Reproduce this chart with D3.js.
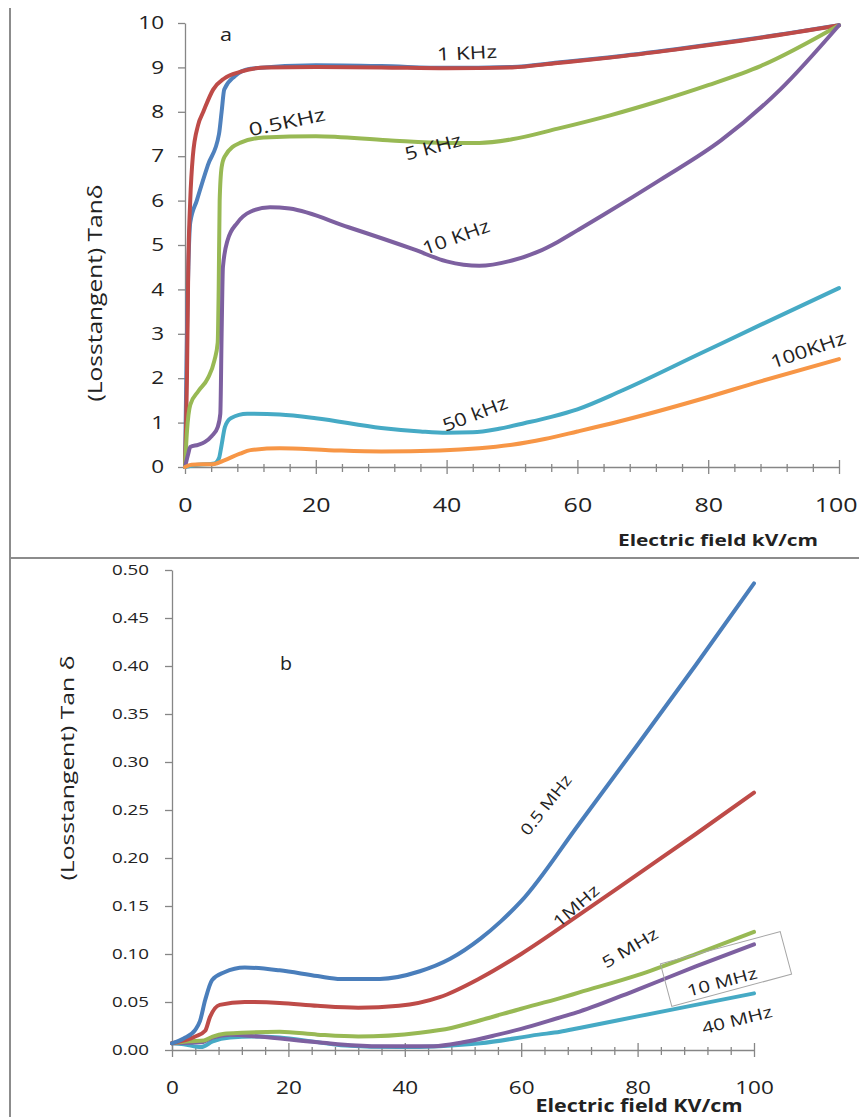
<!DOCTYPE html>
<html>
<head>
<meta charset="utf-8">
<script src="https://cdn.jsdelivr.net/npm/d3@7"></script>
<style>
  html, body { margin: 0; padding: 0; background: #fff; }
  svg { display: block; }
  text { font-family: "Open Sans", "Noto Sans", sans-serif; fill: #222; }
</style>
</head>
<body>
<svg id="chart" width="859" height="1117"></svg>
<script>
// ---------------- Panel a data (Electric field kV/cm, tan δ) ----------------
const xTicksA = [0, 20, 40, 60, 80, 100];
const yTicksA = [0, 1, 2, 3, 4, 5, 6, 7, 8, 9, 10];
const a_05kHz = [[0,0],[0.3,3],[0.8,5.5],[1.8,6],[3.5,6.8],[5.2,7.5],[5.6,8],[6,8.5],[7.6,8.8],[10,8.97],[20,9.05],[30,9.03],[40,8.99],[50,9.01],[57,9.11],[65,9.23],[75,9.41],[85,9.61],[100,9.95]];
const a_1kHz = [[0,0],[0.3,2],[0.5,4.5],[0.8,6],[1.2,7],[2,7.7],[2.8,8],[4.3,8.5],[6,8.75],[8.4,8.9],[12.5,9.0],[20,9.01],[30,9.0],[40,8.98],[50,9.0],[57,9.1],[65,9.22],[75,9.4],[85,9.6],[100,9.95]];
const a_5kHz = [[0,0],[0.3,0.8],[0.8,1.4],[2,1.7],[3.5,2.0],[4.5,2.4],[5,2.8],[5.15,4],[5.3,6],[5.6,6.75],[6.1,7],[8.4,7.3],[12,7.42],[20,7.45],[31,7.36],[40,7.3],[45,7.3],[50,7.38],[57,7.62],[65,7.92],[72,8.22],[80,8.6],[88,9.03],[100,9.95]];
const a_10kHz = [[0,0],[0.5,0.3],[0.8,0.45],[2,0.5],[3,0.56],[4.1,0.7],[5,0.9],[5.4,1.2],[5.6,3],[5.8,4.5],[6.5,5.1],[8,5.5],[10,5.75],[13,5.85],[16,5.82],[25,5.4],[35,4.9],[40,4.63],[45,4.53],[50,4.65],[54,4.85],[57,5.07],[60,5.33],[64,5.68],[72.6,6.46],[82,7.36],[91,8.5],[100,9.95]];
const a_50kHz = [[0,0],[2,0.05],[4.5,0.08],[5.2,0.2],[5.6,0.5],[6.1,0.9],[7,1.1],[9.5,1.2],[14.5,1.18],[20,1.1],[30,0.88],[36,0.8],[40,0.77],[44,0.78],[48,0.86],[52,0.99],[56,1.13],[60,1.3],[66.5,1.7],[78.7,2.55],[88,3.2],[100,4.03]];
const a_100kHz = [[0,0],[1,0.05],[4.5,0.07],[6,0.15],[8.4,0.3],[10,0.38],[14.5,0.42],[22,0.38],[30,0.35],[39,0.37],[45,0.42],[50,0.5],[55,0.63],[60,0.8],[66.5,1.03],[78.7,1.52],[88,1.93],[100,2.43]];

// ---------------- Panel b data ----------------
const xTicksB = [0, 20, 40, 60, 80, 100];
const yTicksB = [0, 0.05, 0.10, 0.15, 0.20, 0.25, 0.30, 0.35, 0.40, 0.45, 0.50];
const b_05MHz = [[0,0.007],[2,0.012],[4,0.021],[4.8,0.03],[5.7,0.052],[6.9,0.073],[9,0.081],[12.5,0.086],[18.5,0.083],[25,0.077],[29,0.074],[35.7,0.074],[42.6,0.082],[47.8,0.095],[53,0.116],[56.5,0.134],[60,0.155],[70,0.236],[80,0.318],[90,0.401],[100,0.486]];
const b_1MHz = [[0,0.007],[4,0.014],[5.7,0.02],[6.5,0.034],[8.2,0.047],[12.5,0.05],[18.5,0.049],[25,0.046],[32,0.044],[39,0.046],[46,0.055],[53,0.075],[60,0.1],[70,0.141],[80,0.183],[90,0.225],[100,0.268]];
const b_5MHz = [[0,0.007],[3,0.009],[5.5,0.01],[7,0.014],[9,0.017],[12,0.018],[18.5,0.019],[25,0.016],[32,0.014],[42.6,0.018],[48,0.023],[53,0.031],[60,0.043],[66.7,0.054],[70,0.06],[80,0.078],[90,0.1],[100,0.123]];
const b_10MHz = [[0,0.007],[5,0.008],[7,0.013],[10,0.016],[15,0.014],[25,0.008],[35,0.004],[45,0.004],[50,0.008],[56,0.016],[60,0.022],[66.7,0.034],[70,0.04],[80,0.063],[90,0.087],[100,0.11]];
const b_40MHz = [[0,0.007],[2,0.006],[5,0.003],[7,0.009],[10,0.013],[14,0.014],[18.5,0.013],[24,0.009],[29,0.005],[39,0.003],[46,0.004],[53,0.007],[63,0.016],[66.7,0.019],[70,0.023],[80,0.035],[90,0.047],[100,0.059]];

const seriesA = [
  {name: "0.5KHz", data: a_05kHz, color: "#4f81bd"},
  {name: "1 KHz", data: a_1kHz, color: "#be4b48"},
  {name: "5 KHz", data: a_5kHz, color: "#98b954"},
  {name: "10 KHz", data: a_10kHz, color: "#7d60a0"},
  {name: "50 kHz", data: a_50kHz, color: "#46aac5"},
  {name: "100KHz", data: a_100kHz, color: "#f79646"}
];
const seriesB = [
  {name: "40 MHz", data: b_40MHz, color: "#46aac5"},
  {name: "10 MHz", data: b_10MHz, color: "#7d60a0"},
  {name: "5 MHz", data: b_5MHz, color: "#98b954"},
  {name: "1MHz", data: b_1MHz, color: "#be4b48"},
  {name: "0.5 MHz", data: b_05MHz, color: "#4a7ebb"}
];

const svg = d3.select("#chart");
const axisColor = "#868686";
const SX = 1.25; // horizontal stretch of the reference typeface

// panel frames
svg.append("line").attr("x1", 10).attr("y1", 8).attr("x2", 10).attr("y2", 1117).attr("stroke", "#8c8c8c").attr("stroke-width", 2);
svg.append("line").attr("x1", 10).attr("y1", 558).attr("x2", 859).attr("y2", 558).attr("stroke", "#8c8c8c").attr("stroke-width", 2);

function drawPanel(opt) {
  const x = d3.scaleLinear().domain([0, 100]).range(opt.xr);
  const y = d3.scaleLinear().domain(opt.yd).range(opt.yr);
  const g = svg.append("g");

  // y axis
  const yAxis = d3.axisLeft(y).tickValues(opt.yTicks).tickSize(7).tickSizeOuter(0).tickFormat(opt.yFmt);
  const ya = g.append("g").attr("transform", `translate(${opt.xr[0]},0)`).call(yAxis);
  ya.select(".domain").attr("stroke", axisColor).attr("stroke-width", 1.3);
  ya.selectAll(".tick line").attr("stroke", axisColor).attr("stroke-width", 1.3);
  ya.selectAll(".tick text")
    .attr("x", (opt.yLabelX - opt.xr[0]) / SX)
    .attr("transform", `scale(${SX},1)`)
    .attr("font-size", opt.yFont)
    .style("font-family", '"Open Sans", sans-serif').attr("fill", "#333");

  // x axis minor ticks
  const minor = d3.range(0, 100.01, 4).filter(v => v % 20 !== 0);
  const xMinor = d3.axisBottom(x).tickValues(minor).tickSize(5).tickSizeOuter(0).tickFormat("");
  const xm = g.append("g").attr("transform", `translate(0,${opt.yr[0]})`).call(xMinor);
  xm.select(".domain").attr("stroke", axisColor).attr("stroke-width", 1.3);
  xm.selectAll(".tick line").attr("stroke", axisColor).attr("stroke-width", 1.3).attr("y1", -3);
  // x axis major ticks
  const xAxis = d3.axisBottom(x).tickValues(opt.xTicks).tickSize(7).tickSizeOuter(0).tickFormat(d3.format("d"));
  const xa = g.append("g").attr("transform", `translate(0,${opt.yr[0]})`).call(xAxis);
  xa.select(".domain").remove();
  xa.selectAll(".tick line").attr("stroke", axisColor).attr("stroke-width", 1.3).attr("y1", -7);
  xa.selectAll(".tick text").attr("y", opt.xLabelDy).attr("dy", "0.35em")
    .attr("transform", `scale(${SX},1)`)
    .attr("font-size", opt.xFont)
    .style("font-family", '"Open Sans", sans-serif').attr("fill", "#222");
  // keep the last label inside the page
  if (opt.lastLabelEnd) {
    xa.selectAll(".tick text").filter(d => d === 100)
      .attr("text-anchor", "end").attr("x", (opt.lastLabelEnd - opt.xr[1]) / SX);
  }

  // lines
  const line = d3.line().x(d => x(d[0])).y(d => y(d[1])).curve(d3.curveMonotoneX);
  g.selectAll("path.series").data(opt.series).join("path")
    .attr("class", "series")
    .attr("d", d => line(d.data))
    .attr("fill", "none")
    .attr("stroke", d => d.color)
    .attr("stroke-width", 4)
    .attr("stroke-linejoin", "round")
    .attr("stroke-linecap", "round");
  return {x, y, g};
}

const A = drawPanel({
  xr: [185, 839], yd: [0, 10], yr: [467, 23],
  yTicks: yTicksA, xTicks: xTicksA, yFmt: d3.format("d"),
  yLabelX: 164, yFont: 18, xFont: 20, xLabelDy: 38, lastLabelEnd: 857,
  series: seriesA
});
const B = drawPanel({
  xr: [172, 754], yd: [0, 0.5], yr: [1050, 570],
  yTicks: yTicksB, xTicks: xTicksB, yFmt: d3.format(".2f"),
  yLabelX: 149, yFont: 15, xFont: 18, xLabelDy: 38,
  series: seriesB
});

function label(t, x, y, r, size, len, bold) {
  const el = svg.append("text")
    .attr("transform", `translate(${x},${y}) rotate(${r})`)
    .attr("text-anchor", "middle").attr("dy", "0.35em")
    .attr("font-size", size)
    .attr("textLength", len).attr("lengthAdjust", "spacingAndGlyphs")
    .text(t);
  if (bold) el.attr("font-weight", "bold");
  return el;
}

// axis titles and panel letters
label("Electric field  kV/cm", 718, 540, 0, 16, 200, true);
label("(Losstangent) Tanδ", 95, 293, -90, 20, 217, false);
label("a", 226, 34, 0, 19, 12, false);

label("Electric field KV/cm", 639, 1106, 0, 17, 207, true);
label("(Losstangent) Tan δ", 67, 768, -90, 19, 225, false);
label("b", 286, 663, 0, 19, 12, false);

// curve labels (panel a)
const labelsA = [
  {t: "1 KHz", x: 467, y: 53, r: -3, len: 60},
  {t: "0.5KHz", x: 287, y: 122, r: -12, len: 78},
  {t: "5 KHz", x: 433, y: 147, r: -15, len: 58},
  {t: "10 KHz", x: 456, y: 237, r: -20, len: 70},
  {t: "50 kHz", x: 475, y: 414, r: -21, len: 68},
  {t: "100KHz", x: 808, y: 350, r: -19, len: 78}
];
labelsA.forEach(d => label(d.t, d.x, d.y, d.r, 18, d.len, false));

// curve labels (panel b)
svg.append("rect").attr("transform", "translate(726,969) rotate(-15)")
  .attr("x", -62).attr("y", -22).attr("width", 124).attr("height", 44)
  .attr("fill", "none").attr("stroke", "#a6a6a6").attr("stroke-width", 1);
const labelsB = [
  {t: "0.5 MHz", x: 546, y: 805, r: -52, len: 72},
  {t: "1MHz", x: 576, y: 906, r: -41, len: 55},
  {t: "5 MHz", x: 630, y: 948, r: -31, len: 62},
  {t: "10 MHz", x: 722, y: 982, r: -15, len: 72},
  {t: "40 MHz", x: 737, y: 1020, r: -14, len: 72}
];
labelsB.forEach(d => label(d.t, d.x, d.y, d.r, 16, d.len, false));
</script>
</body>
</html>
